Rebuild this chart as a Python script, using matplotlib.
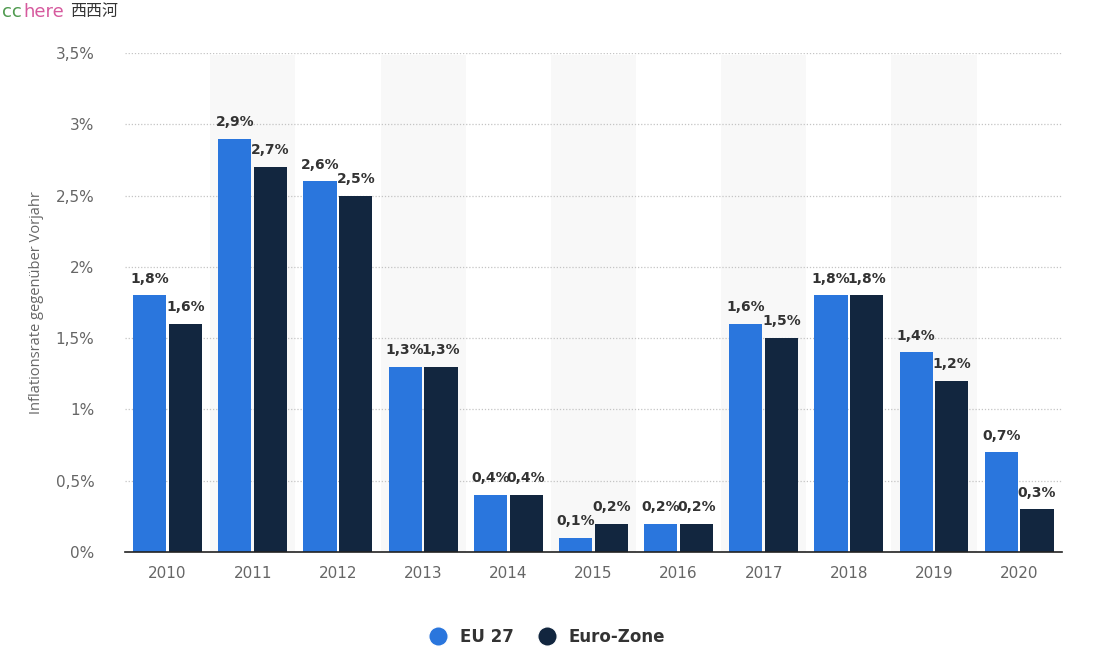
import numpy as np
import matplotlib
matplotlib.use("Agg")
import matplotlib.pyplot as plt
from matplotlib.lines import Line2D

years = ["2010", "2011", "2012", "2013", "2014", "2015", "2016", "2017", "2018", "2019", "2020"]
eu27 = [1.8, 2.9, 2.6, 1.3, 0.4, 0.1, 0.2, 1.6, 1.8, 1.4, 0.7]
eurozone = [1.6, 2.7, 2.5, 1.3, 0.4, 0.2, 0.2, 1.5, 1.8, 1.2, 0.3]
yticks = [0, 0.5, 1, 1.5, 2, 2.5, 3, 3.5]

C_EU = "#2a76dd"
C_EZ = "#12263f"
TXT = "#333333"
TICK = "#666666"


def fmt(v):
    s = f"{v:.1f}".replace(".", ",")
    if s.endswith(",0"):
        s = s[:-2]
    return s + "%"


fig = plt.figure(figsize=(10.93, 6.62), dpi=100)
ax = fig.add_axes([0.1144, 0.166, 0.857, 0.754])

x = np.arange(len(years))
w = 0.39
off = 0.21

# alternating column shading
for i in range(1, len(years), 2):
    ax.axvspan(i - 0.5, i + 0.5, ymax=0.995, color="#f8f8f8", zorder=0, lw=0)

for yv in yticks[1:]:
    ax.axhline(yv, color="#c4c4c4", lw=0.9, ls=(0, (1, 1.5)), zorder=1)

b1 = ax.bar(x - off, eu27, width=w, color=C_EU, zorder=2)
b2 = ax.bar(x + off, eurozone, width=w, color=C_EZ, zorder=2)

for bars, vals in ((b1, eu27), (b2, eurozone)):
    for b, v in zip(bars, vals):
        ax.annotate(fmt(v), (b.get_x() + b.get_width() / 2, v),
                    xytext=(0, 7), textcoords="offset points",
                    ha="center", va="bottom", fontsize=10, fontweight="bold",
                    color=TXT, zorder=3)

ax.set_xlim(-0.5, len(years) - 0.5)
ax.set_ylim(0, 3.5)
ax.set_xticks(x)
ax.set_xticklabels(years)
ax.set_yticks(yticks)
ax.set_yticklabels([fmt(v) for v in yticks])
ax.tick_params(axis="both", length=0, labelsize=11, labelcolor=TICK)
ax.tick_params(axis="x", pad=10)
ax.tick_params(axis="y", pad=22)
for sp in ("top", "right", "left"):
    ax.spines[sp].set_visible(False)
ax.spines["bottom"].set_color("#222222")
ax.spines["bottom"].set_linewidth(1.2)
ax.spines["bottom"].set_zorder(4)

ax.set_ylabel("Inflationsrate gegenüber Vorjahr", fontsize=10.5, color=TICK,
              family="Open Sans", labelpad=8)

handles = [Line2D([0], [0], marker="o", color="w", markerfacecolor=C_EU, markersize=14, label="EU 27"),
           Line2D([0], [0], marker="o", color="w", markerfacecolor=C_EZ, markersize=14, label="Euro-Zone")]
leg = fig.legend(handles=handles, loc="center", bbox_to_anchor=(0.497, 0.038), ncol=2,
                 frameon=False, handletextpad=0.3, columnspacing=1.0,
                 prop={"weight": "bold", "size": 12})
for t in leg.get_texts():
    t.set_color(TXT)

# watermark
fig.text(0.002, 0.982, "cc", color="#4f9a4f", fontsize=13, va="center", family="DejaVu Sans")
fig.text(0.021, 0.982, "here", color="#d65a9e", fontsize=13, va="center", family="DejaVu Sans")
fig.text(0.064, 0.982, "西西河", color="#333333", fontsize=11.5, va="center",
         family=["Noto Sans CJK SC", "DejaVu Sans"])

fig.savefig("out.png", dpi=100)
